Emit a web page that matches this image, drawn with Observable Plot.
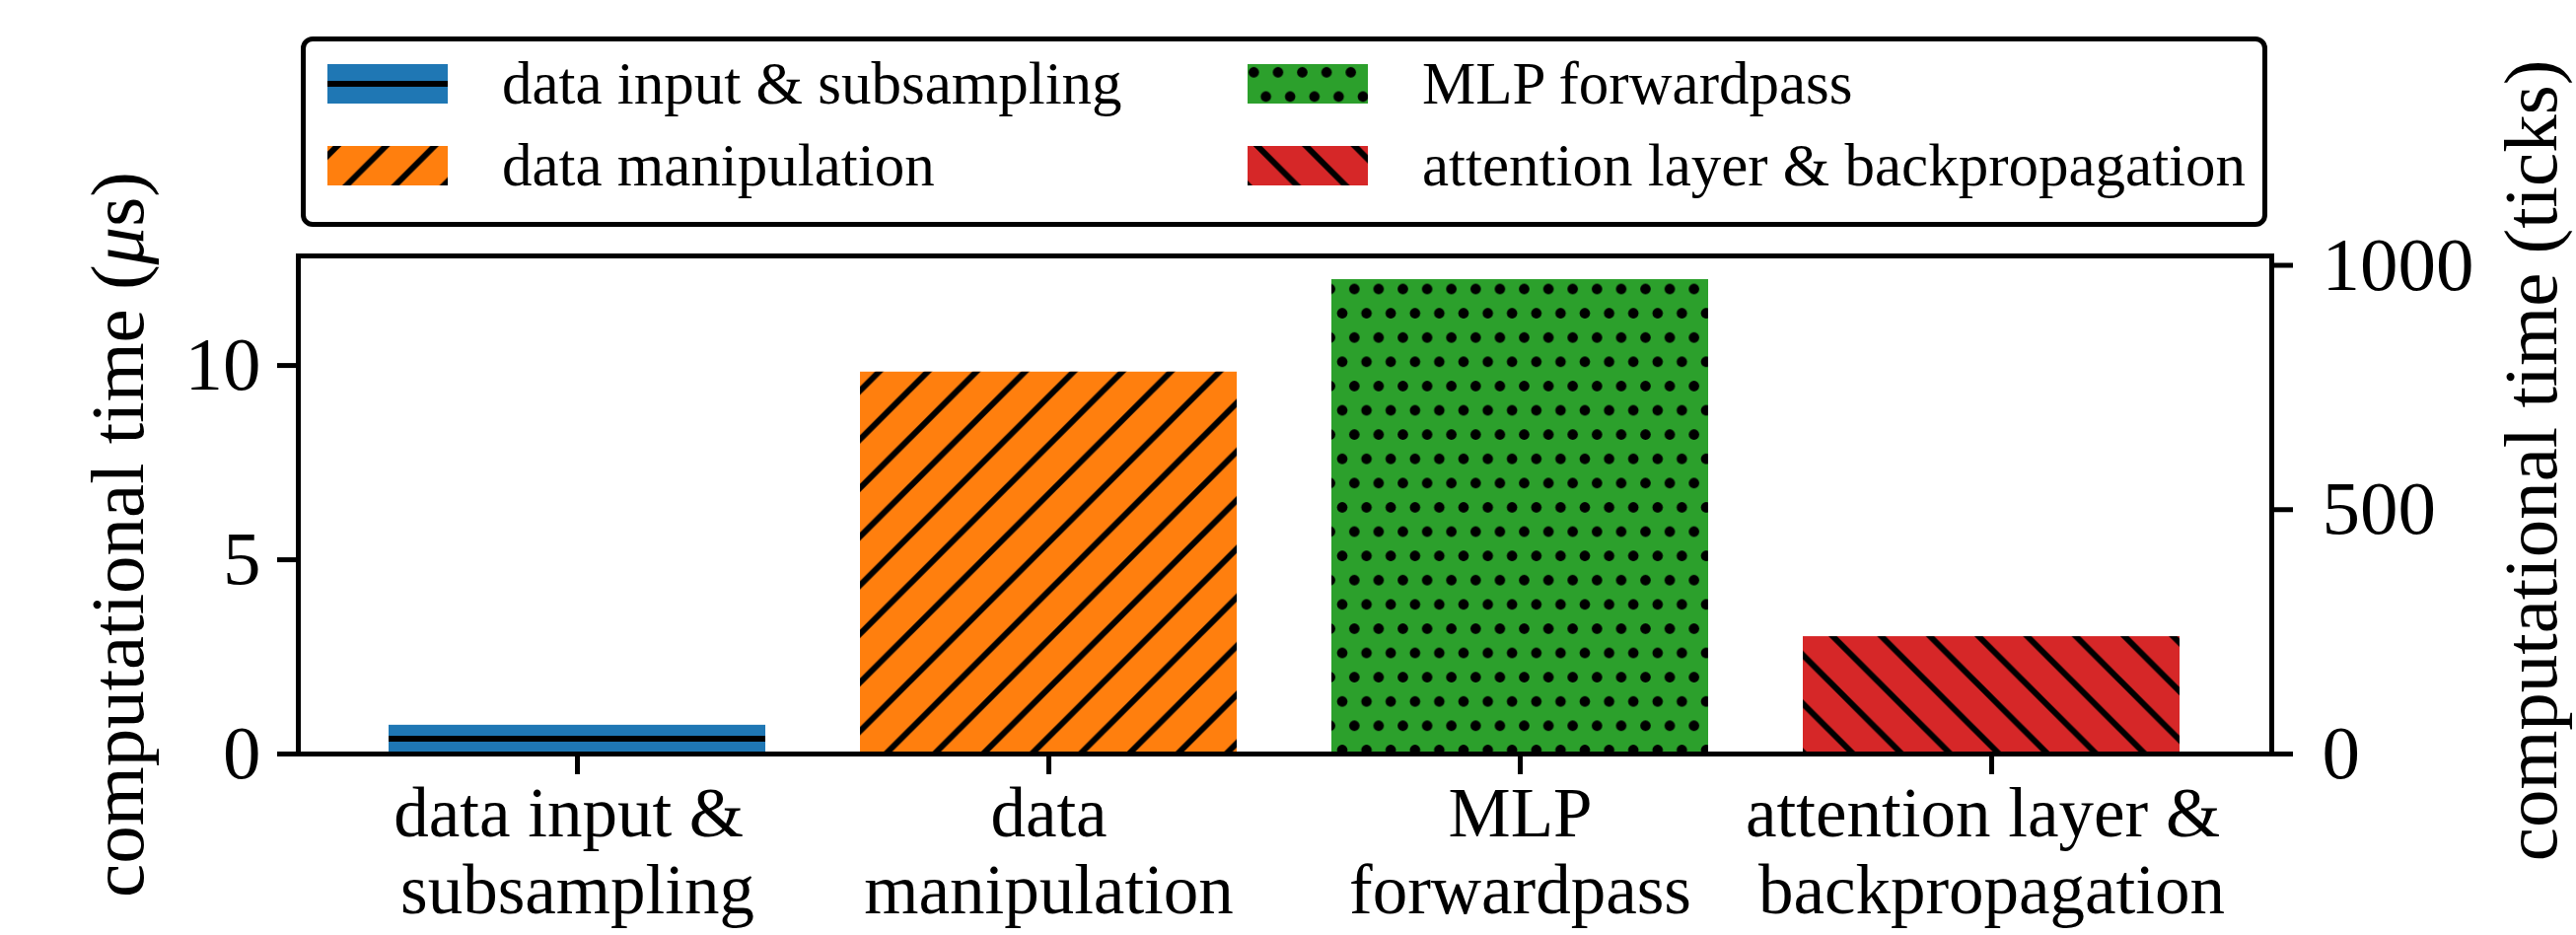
<!DOCTYPE html>
<html>
<head>
<meta charset="utf-8">
<script src="https://cdn.jsdelivr.net/npm/d3@7"></script>
<script src="https://cdn.jsdelivr.net/npm/@observablehq/plot@0.6"></script>
<style>
  html, body { margin: 0; padding: 0; background: #fff; }
  #wrap { position: relative; width: 2612px; height: 948px; font-family: "Liberation Serif", "DejaVu Serif", serif; }
  #legend { position: absolute; left: 305px; top: 37px; width: 1994px; height: 193px; box-sizing: border-box;
            border: 5.5px solid #000; border-radius: 12px; background: #fff; }
  .item { position: absolute; display: flex; align-items: center; height: 60px; font-size: 61px; color: #000; white-space: nowrap; }
  .item svg { display: block; margin-right: 55px; }
</style>
</head>
<body>
<div id="wrap"><div id="legend"></div></div>
<script>
// ---- data ----
const categories = ["data input & subsampling", "data manipulation", "MLP forwardpass", "attention layer & backpropagation"];
const tickLabels = ["data input &\u00a0\nsubsampling", "data\nmanipulation", "MLP\nforwardpass", "attention layer &\u00a0\nbackpropagation"];
const timesUs = [0.74, 9.83, 12.21, 3.02];
const colors = ["#1f77b4", "#ff7f0e", "#2ca02c", "#d62728"];
const hatches = ["-", "/", ".", "\\"];
const leftTicks = [0, 5, 10];
const rightTicks = [0, 500, 1000];
const ticksPerUs = 79.5;
const yMax = 12.82;
const leftLabel = "computational time (μs)";
const rightLabel = "computational time (ticks)";

const data = categories.map((c, i) => ({cat: c, value: timesUs[i], color: colors[i], hatch: `url(#hatch${i})`}));
const labelOf = Object.fromEntries(categories.map((c, i) => [c, tickLabels[i]]));

const FS = 77, FX = 71, SW = 5, HW = 6;

const plot = Plot.plot({
  width: 2612, height: 948,
  marginLeft: 302, marginRight: 309, marginTop: 259, marginBottom: 184,
  style: {fontFamily: "Liberation Serif", fontSize: FS + "px", background: "#fff", color: "#000"},
  x: {domain: categories, paddingInner: 0.2, paddingOuter: 0.19, align: 0.5},
  y: {domain: [0, yMax]},
  color: {type: "identity"},
  marks: [
    Plot.barY(data, {x: "cat", y: "value", fill: "color"}),
    Plot.barY(data, {x: "cat", y: "value", fill: "hatch"}),
    Plot.frame({stroke: "#000", strokeWidth: SW}),
    Plot.axisY(leftTicks, {anchor: "left", tickSize: 21, strokeWidth: SW, fontSize: FS, tickPadding: 17, label: null}),
    Plot.axisY(rightTicks.map(t => t / ticksPerUs), {anchor: "right", tickSize: 21, strokeWidth: SW, fontSize: FS, tickPadding: 30,
      tickFormat: d => String(Math.round(d * ticksPerUs)), label: null}),
    Plot.axisX({anchor: "bottom", tickSize: 21, strokeWidth: SW, fontSize: FX, tickPadding: 7, lineHeight: 1.1,
      tickFormat: d => labelOf[d], label: null}),
    Plot.text([leftLabel], {text: d => d, frameAnchor: "left", rotate: -90, dx: -182, dy: 30, fontSize: FS, textAnchor: "middle", lineAnchor: "middle"}),
    Plot.text([rightLabel], {text: d => d, frameAnchor: "right", rotate: -90, dx: 264, dy: -45, fontSize: FS, textAnchor: "middle", lineAnchor: "middle"})
  ]
});

// ---- hatch patterns (in SVG user space) ----
const P = 49.3, s = 6;
const svg = d3.select(plot);
const defs = svg.insert("defs", ":first-child");
function addLinePattern(sel, id, x, y, d) {
  const p = sel.append("pattern").attr("id", id).attr("patternUnits", "userSpaceOnUse")
    .attr("x", x).attr("y", y).attr("width", P).attr("height", P);
  p.append("path").attr("d", d).attr("stroke", "#000").attr("stroke-width", HW).attr("fill", "none");
}
function addDotPattern(sel, id, x, y) {
  const w = 24.6, h = 49.2, r = 5.3;
  const p = sel.append("pattern").attr("id", id).attr("patternUnits", "userSpaceOnUse")
    .attr("x", x).attr("y", y).attr("width", w).attr("height", h);
  [[w / 2, h / 4], [0, 3 * h / 4], [w, 3 * h / 4]].forEach(([cx, cy]) => p.append("circle").attr("cx", cx).attr("cy", cy).attr("r", r).attr("fill", "#000"));
}
const dH = `M${-s},${P/2}H${P+s}`;
const dSlash = `M0,${P}L${P},0M${-s},${s}L${s},${-s}M${P-s},${P+s}L${P+s},${P-s}`;
const dBack = `M0,0L${P},${P}M${P-s},${-s}L${P+s},${s}M${-s},${P-s}L${s},${P+s}`;
addLinePattern(defs, "hatch0", 0, 749 - P / 2, dH);
addLinePattern(defs, "hatch1", 35.7, 0, dSlash);
addDotPattern(defs, "hatch2", 1361, 280.7);
addLinePattern(defs, "hatch3", 30.1, 0, dBack);

// italic mu in the left label
svg.selectAll("text").each(function() {
  const t = d3.select(this);
  if (t.text() === leftLabel) {
    t.text(null);
    t.append("tspan").text("computational time (");
    t.append("tspan").attr("font-style", "italic").text("μ");
    t.append("tspan").text("s)");
  }
});

document.getElementById("wrap").insertBefore(plot, document.getElementById("legend"));

// ---- legend ----
const legend = d3.select("#legend");
const pos = [[22, 13], [22, 96], [955, 13], [955, 96]]; // [left, top] inside box
categories.forEach((c, i) => {
  const it = legend.append("div").attr("class", "item").style("left", pos[i][0] + "px").style("top", pos[i][1] + "px");
  const sw = it.append("svg").attr("width", 122).attr("height", 40);
  const sdefs = sw.append("defs");
  const id = "lg" + i;
  if (i === 0) addLinePattern(sdefs, id, 0, 20 - P / 2, dH);
  if (i === 1) addLinePattern(sdefs, id, 10, 0, dSlash);
  if (i === 2) addDotPattern(sdefs, id, -6, -4);
  if (i === 3) addLinePattern(sdefs, id, 10, 0, dBack);
  sw.append("rect").attr("width", 122).attr("height", 40).attr("fill", colors[i]);
  sw.append("rect").attr("width", 122).attr("height", 40).attr("fill", `url(#${id})`);
  it.append("span").text(c);
});
</script>
</body>
</html>
